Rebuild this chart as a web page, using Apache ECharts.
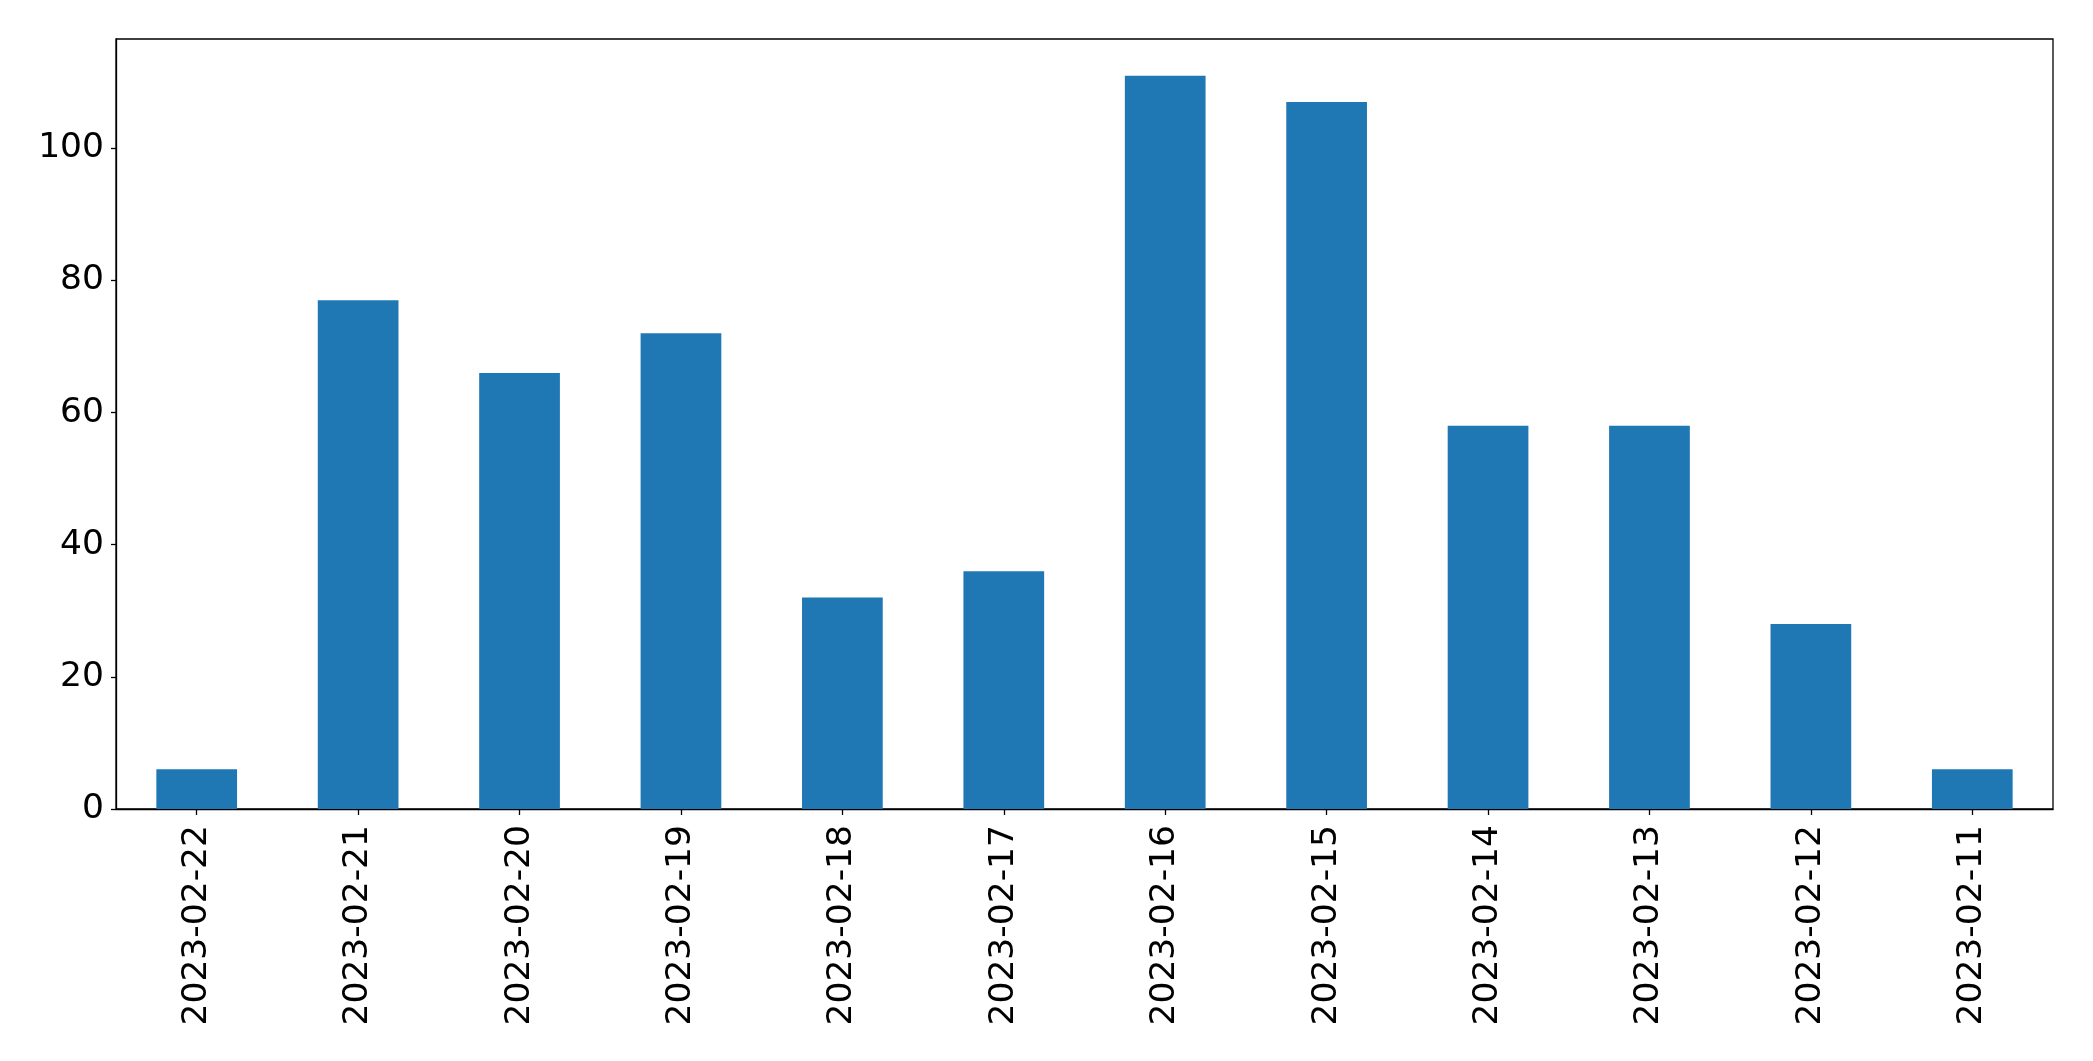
<!DOCTYPE html>
<html>
<head>
<meta charset="utf-8">
<script src="https://cdn.jsdelivr.net/npm/echarts@6/dist/echarts.min.js"></script>
<style>
html,body{margin:0;padding:0;background:#fff;}
#chart{width:2093px;height:1061px;}
</style>
</head>
<body>
<div id="chart"></div>
<script>
const categories = ["2023-02-22","2023-02-21","2023-02-20","2023-02-19","2023-02-18","2023-02-17","2023-02-16","2023-02-15","2023-02-14","2023-02-13","2023-02-12","2023-02-11"];
const counts = [6, 77, 66, 72, 32, 36, 111, 107, 58, 58, 28, 6];
const yTicks = [0, 20, 40, 60, 80, 100];
const yMax = 116.55;

const chart = echarts.init(document.getElementById('chart'), null, {renderer: 'canvas'});
const font = 'DejaVu Sans';
chart.setOption({
  animation: false,
  backgroundColor: '#ffffff',
  grid: {left: 116, right: 40, top: 39, bottom: 252, show: true, borderColor: '#000', borderWidth: 1.3, backgroundColor: 'transparent'},
  xAxis: {
    type: 'category',
    data: categories,
    boundaryGap: true,
    axisLine: {show: true, lineStyle: {color: '#000', width: 1.3}},
    axisTick: {show: true, alignWithLabel: true, length: 6, lineStyle: {color: '#000', width: 1.3}},
    axisLabel: {rotate: 90, margin: 16, color: '#000', fontFamily: font, fontSize: 34.5, interval: 0},
    splitLine: {show: false}
  },
  yAxis: {
    type: 'value',
    min: 0,
    max: yMax,
    interval: 20,
    axisLine: {show: true, lineStyle: {color: '#000', width: 1.3}},
    axisTick: {show: true, length: 5, lineStyle: {color: '#000', width: 1.3}, customValues: yTicks},
    axisLabel: {margin: 12, color: '#000', fontFamily: font, fontSize: 34.5, customValues: yTicks},
    splitLine: {show: false}
  },
  series: [{
    type: 'bar',
    data: counts,
    barWidth: '50%',
    itemStyle: {color: '#1f77b4'}
  }]
});
</script>
</body>
</html>
